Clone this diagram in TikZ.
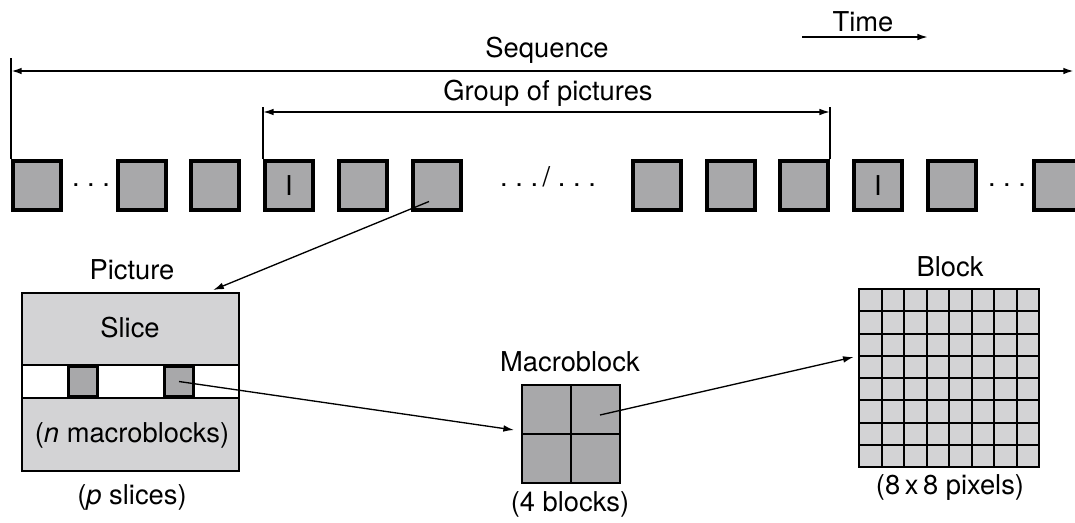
\documentclass[tikz,border=0pt]{standalone}
\usepackage{fontspec}
\setmainfont{TeX Gyre Heros}
\usetikzlibrary{arrows.meta,calc}
\definecolor{framegray}{RGB}{168,168,170}
\definecolor{paleg}{RGB}{211,211,213}
\tikzset{
  frame/.style={draw,line width=3.2pt,fill=framegray,minimum width=35.8pt,minimum height=36.55pt,inner sep=0pt},
  mblk/.style={draw,line width=2.2pt,fill=framegray,minimum width=21.8pt,minimum height=22.5pt,inner sep=0pt},
  lbl/.style={font=\fontsize{20.5}{24}\selectfont,inner sep=0pt},
  dotlbl/.style={font=\fontsize{20.5}{24}\selectfont,inner sep=0pt,anchor=base},
  thinarrow/.style={line width=1pt,-{Latex[length=8pt,width=5pt]}},
  seqarrow/.style={line width=1.5pt,{Latex[length=8pt,width=5pt]}-{Latex[length=8pt,width=5pt]}},
  tick/.style={line width=1.1pt}
}
\begin{document}
\begin{tikzpicture}[x=0.75pt,y=0.75pt,yscale=-1]
\useasboundingbox (0,0) rectangle (1075,522);

\foreach \x/\n in {37/1,142/2,215/3,363/5,437/6,657/7,731/8,804/9,952/11,1058/12}
  \node[frame] (f\n) at (\x,185.5) {};
\node[frame,lbl] (f4) at (289,185.5) {I};
\node[frame,lbl] (f10) at (878,185.5) {I};

\node[dotlbl] (d1) at (91,186.5) {.\ .\ .};
\node[dotlbl] (d2) at (548,186.5) {.\ .\ .\,/\ .\ .\ .};
\node[dotlbl] (d3) at (1007,186.5) {.\ .\ .};

% sequence and group of pictures
\coordinate (seqtop) at ($(f1.north west)+(0,-101)$);
\coordinate (seqL) at ($(f1.north west)+(0,-88)$);
\coordinate (seqR) at (1074,71);
\draw[tick] (f1.north west) -- (seqtop);
\draw[seqarrow] (seqL) -- (seqR);
\node[lbl] (seqlbl) at (547,50) {Sequence};

\coordinate (goptopL) at ($(f4.north west)+(0,-52)$);
\coordinate (goptopR) at ($(f9.north east)+(0,-52)$);
\coordinate (gopL) at ($(f4.north west)+(0,-47)$);
\coordinate (gopR) at ($(f9.north east)+(0,-47)$);
\draw[tick] (f4.north west) -- (goptopL);
\draw[tick] (f9.north east) -- (goptopR);
\draw[seqarrow,line width=1.1pt] (gopL) -- (gopR);
\node[lbl] (goplbl) at (548,93) {Group of pictures};

\coordinate (timeA) at (802,37);
\coordinate (timeB) at (928,37);
\draw[thinarrow,line width=1.3pt] (timeA) -- (timeB);
\node[lbl] (timelbl) at (863,22) {Time};

% picture
\node[draw,line width=1.5pt,fill=paleg,minimum width=162.75pt,minimum height=133.5pt] (pic) at (130.5,382) {};
\node[draw,line width=1.5pt,fill=white,minimum width=162.75pt,minimum height=24.75pt] (slice) at (130.5,381.5) {};
\node[mblk] (mb1) at (83,381.5) {};
\node[mblk] (mb2) at (179,381.5) {};
\node[lbl] (piclbl) at (132,270) {Picture};
\node[lbl] (slicelbl) at (130,328) {Slice};
\node[lbl] (nlbl) at (132,435) {(\textit{n} macroblocks)};
\node[lbl] (plbl) at (132,497) {(\textit{p} slices)};

% macroblock
\node[draw,line width=1.5pt,fill=framegray,minimum size=73.5pt,inner sep=0pt,outer sep=0pt] (macro) at (571,434) {};
\draw[line width=1.5pt] (macro.north) -- (macro.south);
\draw[line width=1.5pt] (macro.west) -- (macro.east);
\node[lbl] (macrolbl) at (570,362) {Macroblock};
\node[lbl] (fourlbl) at (570,504) {(4 blocks)};

% block
\node[draw,line width=1.5pt,fill=paleg,minimum width=135pt,minimum height=133.5pt,inner sep=0pt,outer sep=0pt] (blk) at (949,378) {};
\foreach \i in {1,...,7} {
  \draw[line width=1.5pt] ($(blk.north west)!\i/8!(blk.north east)$) -- ($(blk.south west)!\i/8!(blk.south east)$);
  \draw[line width=1.5pt] ($(blk.north west)!\i/8!(blk.south west)$) -- ($(blk.north east)!\i/8!(blk.south east)$);
}
\node[lbl] (blklbl) at (950,267) {Block};
\node[lbl] (pixlbl) at (950,488) {(8\,x\,8 pixels)};

\draw[thinarrow] ([xshift=-6pt,yshift=12pt]f6.center) -- ([xshift=62pt,yshift=-1.5pt]pic.north);
\draw[thinarrow] (mb2.center) -- ([xshift=-6pt,yshift=-3pt]macro.west);
\draw[thinarrow] ([xshift=21.75pt,yshift=-14.25pt]macro.center) -- ([xshift=-4pt,yshift=-15.75pt]blk.west);
\end{tikzpicture}
\end{document}
